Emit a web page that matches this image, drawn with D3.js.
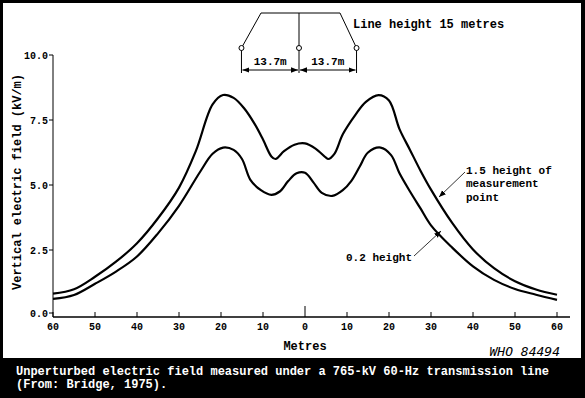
<!DOCTYPE html>
<html>
<head>
<meta charset="utf-8">
<script src="https://cdn.jsdelivr.net/npm/d3@7"></script>
<style>
  body { margin: 0; background: #000; }
  svg { display: block; }
  text { font-family: "Liberation Mono", "DejaVu Sans Mono", monospace; font-weight: bold; fill: #000; }
</style>
</head>
<body>
<div id="chart"></div>
<script>
// distance from line centre (m), field in kV/m
var metres = [-60, -55, -50, -45, -40, -35, -30, -26, -22, -19.5, -17, -14.5, -12, -10, -8, -7, -5, -2.5, 0, 2.5, 5, 5.5, 7, 9, 12, 14.5, 17.5, 20, 22.5, 25, 27.5, 30, 35, 40, 45, 50, 55, 60];
var upper  = [0.82, 0.99, 1.47, 2.05, 2.76, 3.72, 4.9, 6.3, 8.1, 8.46, 8.35, 7.95, 7.35, 6.75, 6.1, 6.0, 6.3, 6.55, 6.6, 6.4, 6.05, 6.0, 6.2, 6.95, 7.7, 8.2, 8.46, 8.25, 7.15, 6.35, 5.55, 4.82, 3.55, 2.52, 1.8, 1.3, 0.98, 0.78];

var metresLow = [-60, -55, -50, -45, -40, -35, -30, -25, -22, -19.5, -17, -15, -13, -10.5, -8, -6, -4, -2, 0, 2, 4, 6.5, 9, 11, 13, 15, 18, 20.5, 22.5, 25, 27.5, 30, 35, 40, 45, 50, 55, 60];
var lower     = [0.62, 0.77, 1.2, 1.67, 2.25, 3.14, 4.2, 5.5, 6.2, 6.44, 6.35, 6.0, 5.2, 4.8, 4.62, 4.75, 5.15, 5.45, 5.47, 5.1, 4.7, 4.58, 4.8, 5.15, 5.7, 6.25, 6.44, 6.15, 5.45, 4.75, 4.1, 3.45, 2.6, 1.87, 1.35, 1.0, 0.78, 0.58];

var xTicks = [-60, -50, -40, -30, -20, -10, 0, 10, 20, 30, 40, 50, 60];
var yTicks = [0, 2.5, 5, 7.5, 10];
var conductors = [-13.7, 0, 13.7];
var caption = ["Unperturbed electric field measured under a 765-kV 60-Hz transmission line",
               "(From: Bridge, 1975)."];

var W = 585, H = 398;
var svg = d3.select('#chart').append('svg').attr('width', W).attr('height', H);

// black frame + white panel
svg.append('rect').attr('width', W).attr('height', H).attr('fill', '#000');
svg.append('rect').attr('x', 3).attr('y', 3).attr('width', 578).attr('height', 355).attr('fill', '#fff');

var x = d3.scaleLinear().domain([-60, 60]).range([53, 557]);
var y = d3.scaleLinear().domain([0, 10]).range([315, 55]);
var axisY = 317;

// y axis
svg.append('line').attr('x1', 53).attr('x2', 53).attr('y1', 55).attr('y2', axisY)
  .attr('stroke', '#000').attr('stroke-width', 1);
yTicks.forEach(function(t){
  var yy = Math.min(y(t), 313);
  svg.append('line').attr('x1', 49).attr('x2', 53).attr('y1', yy).attr('y2', yy).attr('stroke', '#000');
  svg.append('text').attr('x', 48).attr('y', yy + 4).attr('text-anchor', 'end')
    .style('font-size', '10px').text(t.toFixed(1));
});

// x axis
svg.append('line').attr('x1', 53).attr('x2', 570).attr('y1', axisY).attr('y2', axisY)
  .attr('stroke', '#000').attr('stroke-width', 1.5);
xTicks.forEach(function(t){
  var len = t === 0 ? 11 : 5;
  svg.append('line').attr('x1', x(t)).attr('x2', x(t)).attr('y1', axisY).attr('y2', axisY - len)
    .attr('stroke', '#000');
  svg.append('text').attr('x', x(t)).attr('y', 330).attr('text-anchor', 'middle')
    .style('font-size', '10px').text(Math.abs(t));
});

svg.append('text').attr('x', 305).attr('y', 350).attr('text-anchor', 'middle')
  .style('font-size', '12px').text('Metres');
svg.append('text').attr('transform', 'translate(21,182) rotate(-90)').attr('text-anchor', 'middle')
  .style('font-size', '12px').text('Vertical electric field (kV/m)');
svg.append('text').attr('x', 560).attr('y', 356).attr('text-anchor', 'end')
  .style('font-size', '13px').style('font-weight', 'normal').style('font-style', 'italic')
  .style('font-family', '"DejaVu Sans Mono", monospace').text('WHO 84494');

// curves
var line = d3.line().curve(d3.curveCatmullRom.alpha(0.5));
svg.append('path')
  .attr('d', line(metres.map(function(m, i){ return [x(m), y(upper[i])]; })))
  .attr('fill', 'none').attr('stroke', '#000').attr('stroke-width', 2.2);
svg.append('path')
  .attr('d', line(metresLow.map(function(m, i){ return [x(m), y(lower[i])]; })))
  .attr('fill', 'none').attr('stroke', '#000').attr('stroke-width', 2.2);

// arrowheads
var defs = svg.append('defs');
defs.append('marker').attr('id', 'ah').attr('viewBox', '0 0 10 10').attr('refX', 10).attr('refY', 5)
  .attr('markerWidth', 7).attr('markerHeight', 7).attr('orient', 'auto-start-reverse')
  .attr('markerUnits', 'userSpaceOnUse')
  .append('path').attr('d', 'M0,1 L10,5 L0,9 Z').attr('fill', '#000');

// curve labels
var lab = svg.append('g').style('font-size', '11px');
['1.5 height of', 'measurement', 'point'].forEach(function(s, i){
  lab.append('text').attr('x', 466).attr('y', 174 + i * 13.3).text(s);
});
lab.append('text').attr('x', 346).attr('y', 261).text('0.2 height');
svg.append('line').attr('x1', 465).attr('y1', 172).attr('x2', 439).attr('y2', 197)
  .attr('stroke', '#000').attr('stroke-width', 0.8).attr('marker-end', 'url(#ah)');
svg.append('line').attr('x1', 414).attr('y1', 256).attr('x2', 441).attr('y2', 231)
  .attr('stroke', '#000').attr('stroke-width', 0.8).attr('marker-end', 'url(#ah)');

// tower sketch (schematic, drawn slightly left of the axis centre)
var sx = function(m){ return x(m) - 6; };
var cy = 48, topY = 13;
var g = svg.append('g').attr('stroke', '#000').attr('fill', 'none');
g.append('polyline').attr('points', [[sx(-13.7), cy], [261, topY], [340, topY], [sx(13.7), cy]].join(' '));
g.append('line').attr('x1', sx(0)).attr('x2', sx(0)).attr('y1', topY).attr('y2', cy);
conductors.forEach(function(s){
  g.append('line').attr('x1', sx(s)).attr('x2', sx(s)).attr('y1', cy + 2).attr('y2', 73);
});
conductors.forEach(function(s){
  g.append('circle').attr('cx', sx(s)).attr('cy', cy).attr('r', 2.5).attr('fill', '#fff');
});
[[-13.7, 0], [0, 13.7]].forEach(function(p){
  svg.append('line').attr('x1', sx(p[0]) + 1).attr('x2', sx(p[1]) - 1).attr('y1', 70).attr('y2', 70)
    .attr('stroke', '#000').attr('marker-start', 'url(#ah)').attr('marker-end', 'url(#ah)');
  svg.append('text').attr('x', (sx(p[0]) + sx(p[1])) / 2).attr('y', 65).attr('text-anchor', 'middle')
    .style('font-size', '11px').text('13.7m');
});
svg.append('text').attr('x', 353).attr('y', 28).style('font-size', '12px').text('Line height 15 metres');

// caption on black band
caption.forEach(function(s, i){
  svg.append('text').attr('x', 16).attr('y', 375 + i * 13).style('font-size', '12px')
    .style('fill', '#fff').text(s);
});
</script>
</body>
</html>
